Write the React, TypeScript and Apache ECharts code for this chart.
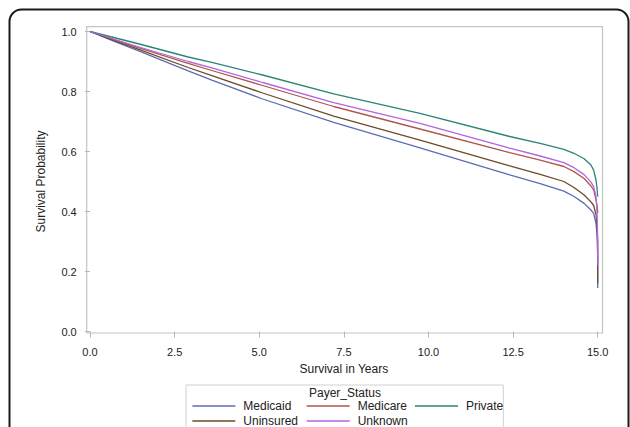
import React, { useEffect, useRef } from "react";
import * as echarts from "echarts";

const seriesNames = ["Medicaid", "Medicare", "Private", "Uninsured", "Unknown"];
const seriesColors = ["#5a6db3", "#b0564a", "#2a8576", "#6e4a28", "#b066e0"];

const years = [0, 0.7, 1.4, 2.9, 3.6, 5.1, 7.2, 9.75, 12.4, 13.3, 14.0, 14.3, 14.6, 14.8, 14.88, 14.95, 14.98, 15.0, 15.0];

const medicaid = [1, 0.968, 0.937, 0.869, 0.838, 0.775, 0.697, 0.612, 0.522, 0.493, 0.468, 0.45, 0.427, 0.405, 0.394, 0.36, 0.32, 0.25, 0.145];
const medicare = [1, 0.973, 0.947, 0.894, 0.87, 0.82, 0.75, 0.675, 0.596, 0.571, 0.55, 0.533, 0.51, 0.485, 0.472, 0.44, 0.42, 0.4, 0.395];
const privateIns = [1, 0.98, 0.96, 0.915, 0.897, 0.855, 0.792, 0.727, 0.65, 0.627, 0.607, 0.594, 0.576, 0.555, 0.538, 0.505, 0.478, 0.478, 0.45];
const uninsured = [1, 0.97, 0.942, 0.88, 0.853, 0.795, 0.718, 0.638, 0.552, 0.524, 0.5, 0.48, 0.455, 0.432, 0.42, 0.39, 0.35, 0.3, 0.16];
const unknown = [1, 0.975, 0.95, 0.9, 0.879, 0.83, 0.763, 0.694, 0.611, 0.585, 0.563, 0.546, 0.523, 0.498, 0.483, 0.45, 0.4, 0.3, 0.22];

const seriesValues = [medicaid, medicare, privateIns, uninsured, unknown];

const xTicks = { min: 0, max: 15, interval: 2.5 };
const yTicks = { min: 0, max: 1, interval: 0.2 };

const legendTitle = "Payer_Status";
const xTitle = "Survival in Years";
const yTitle = "Survival Probability";

const FONT = "'Liberation Sans', Arial, sans-serif";

export default function App() {
  const ref = useRef<HTMLDivElement>(null);
  useEffect(() => {
    if (!ref.current) return;
    const chart = echarts.init(ref.current, null, { renderer: "svg" });

    const legendPos = [
      { left: 191.7, top: 400 },
      { left: 306, top: 400 },
      { left: 414.3, top: 400 },
      { left: 191.7, top: 415 },
      { left: 306, top: 415 },
    ];

    const option: any = {
      animation: false,
      backgroundColor: "#ffffff",
      textStyle: { fontFamily: FONT },
      grid: { left: 90, right: 32.3, top: 31.5, bottom: 95.5, containLabel: false },
      xAxis: {
        type: "value",
        min: xTicks.min,
        max: xTicks.max,
        interval: xTicks.interval,
        offset: 1.5,
        name: xTitle,
        nameLocation: "middle",
        nameGap: 30,
        nameTextStyle: { fontSize: 12, color: "#222", fontFamily: FONT },
        axisLine: { show: false },
        axisTick: { show: true, length: 6, lineStyle: { color: "#b8b8b8" } },
        axisLabel: {
          fontSize: 11,
          color: "#222",
          margin: 13,
          fontFamily: FONT,
          formatter: (v: number) => v.toFixed(1),
        },
        splitLine: { show: false },
      },
      yAxis: {
        type: "value",
        min: yTicks.min,
        max: yTicks.max,
        interval: yTicks.interval,
        offset: 3.3,
        name: yTitle,
        nameLocation: "middle",
        nameGap: 40,
        nameTextStyle: { fontSize: 12, color: "#222", fontFamily: FONT },
        axisLine: { show: false },
        axisTick: { show: true, length: 5, lineStyle: { color: "#b8b8b8" } },
        axisLabel: {
          fontSize: 11,
          color: "#222",
          margin: 10,
          fontFamily: FONT,
          formatter: (v: number) => v.toFixed(1),
        },
        splitLine: { show: false },
      },
      legend: seriesNames.map((n, i) => ({
        data: [n],
        left: legendPos[i].left,
        top: legendPos[i].top,
        itemWidth: 43,
        itemHeight: 14,
        padding: 0,
        selectedMode: false,
        itemStyle: { opacity: 0 },
        lineStyle: { width: 1.3 },
        textStyle: { fontSize: 12, color: "#222", fontFamily: FONT, padding: [0, 0, 0, 3] },
      })),
      series: seriesNames.map((n, i) => ({
        name: n,
        type: "line",
        symbol: "none",
        showSymbol: false,
        silent: true,
        lineStyle: { color: seriesColors[i], width: 1.3 },
        itemStyle: { color: seriesColors[i] },
        data: years.map((t, k) => [t, seriesValues[i][k]]),
      })),
      graphic: [
        {
          type: "rect",
          shape: { x: 9.5, y: 9.5, width: 619, height: 440, r: 12 },
          style: { fill: "none", stroke: "#1a1a1a", lineWidth: 2 },
          silent: true,
        },
        {
          type: "rect",
          shape: { x: 86.7, y: 26.7, width: 515.8, height: 306.3 },
          style: { fill: "none", stroke: "#c4c4c4", lineWidth: 1.2 },
          silent: true,
        },
        {
          type: "rect",
          shape: { x: 186, y: 385, width: 317.3, height: 60 },
          style: { fill: "none", stroke: "#d0d0d0", lineWidth: 1 },
          silent: true,
        },
        {
          type: "text",
          x: 345,
          y: 393,
          style: {
            text: legendTitle,
            fontSize: 12,
            fontFamily: FONT,
            fill: "#222",
            textAlign: "center",
            textVerticalAlign: "middle",
          },
          silent: true,
        },
      ],
    };

    chart.setOption(option);
    return () => chart.dispose();
  }, []);

  return (
    <div
      ref={ref}
      style={{ position: "fixed", left: 0, top: 0, width: 630, height: 427 }}
    />
  );
}
